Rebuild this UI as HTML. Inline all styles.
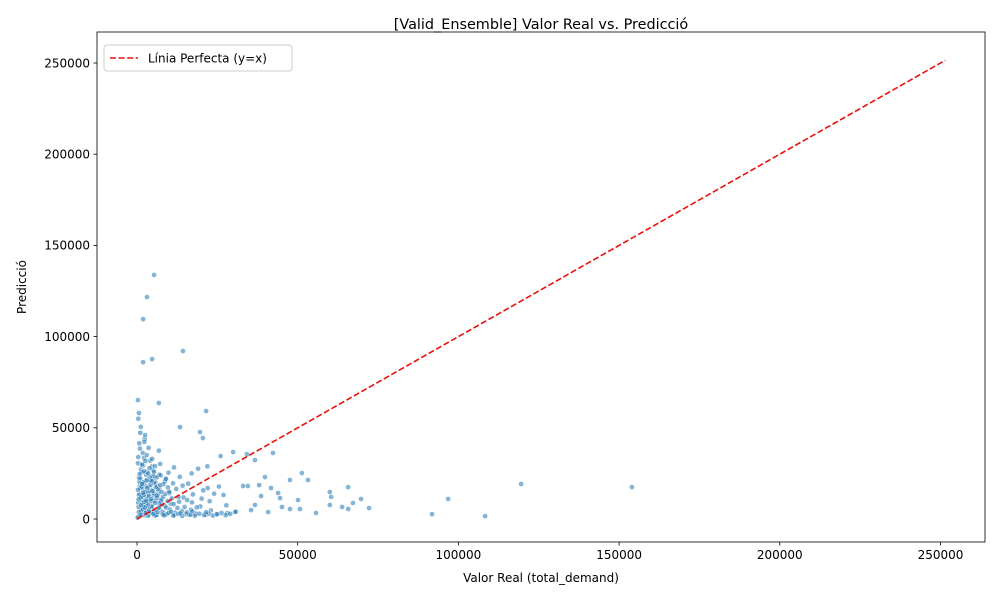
<!DOCTYPE html>
<html><head><meta charset="utf-8"><style>
body{margin:0;background:#fff;}
svg text{font-family:"DejaVu Sans","Liberation Sans",sans-serif;}
</style></head><body>
<svg id="chart" width="1000" height="600" xmlns="http://www.w3.org/2000/svg">
<rect width="1000" height="600" fill="#fff"/>
<text x="541" y="29" font-size="14.4" text-anchor="middle">[Valid_Ensemble] Valor Real vs. Predicció</text>
<text x="541" y="582" font-size="12" text-anchor="middle">Valor Real (total_demand)</text>
<text transform="translate(26,287) rotate(-90)" font-size="12" text-anchor="middle">Predicció</text>
<g id="points"></g>
<g id="line"></g>
<g id="axes"></g>
<g>
<rect x="104" y="45" width="188" height="26" rx="3" fill="#fff" fill-opacity="0.8" stroke="#ccc"/>
<line x1="110" y1="58" x2="138" y2="58" stroke="#e8120c" stroke-width="1.6" stroke-dasharray="6,2.6"/>
<text x="148" y="62.5" font-size="12">Línia Perfecta (y=x)</text>
</g>
</svg>
<script>
const xTicks=[0,50000,100000,150000,200000,250000];
const yTicks=[0,50000,100000,150000,200000,250000];
const lineEnds=[0,251500];
const ptX=[5.3,3.1,1.9,1.9,4.7,14.3,0.3,0.6,6.8,21.5,
19.6,13.4,20.5,26,29.9,34.2,42.3,36.7,39.8,38,
33,34.5,51.3,53.2,47.6,41.7,43.9,44.5,38.6,40.8,
35.5,30.5,36.7,50.1,50.7,55.7,60,60.4,60,63.8,
65.7,65.7,67.2,69.7,72.2,45.1,47.6,91.8,96.8,108.3,
0.5,1.1,0.8,2.3,1.7,3.1,0.4,2.6,1.3,3.8,
4.4,0.9,5.2,2.0,6.1,1.5,3.4,0.6,4.9,2.8,
7.0,1.2,3.9,0.3,5.7,2.2,8.4,1.8,6.6,0.7,
9.3,3.0,10.5,4.6,11.8,2.4,7.7,5.4,12.6,1.0,
13.9,6.3,15.2,3.6,8.9,16.8,4.1,10.1,18.3,5.0,
19.7,7.2,11.2,21.4,2.9,14.5,23.0,6.8,9.8,24.8,
0.2,1.6,0.9,2.5,1.4,3.3,0.6,2.1,4.0,1.9,
5.8,3.7,6.9,4.8,8.1,2.7,7.4,5.5,9.6,3.2,
10.8,12.2,13.3,8.6,17.4,15.9,20.6,26.9,28.1,30.7,
22.6,19.0,25.5,17.1,14.8,11.5,27.8,16.2,21.9,0.4,
1.3,0.5,2.7,1.0,3.6,0.8,4.3,1.7,2.2,6.0,
7.9,9.1,3.4,11.6,5.1,13.1,6.5,2.6,8.7,4.7,
0.6,1.4,2.2,3.0,3.8,4.6,5.4,6.2,7.0,7.8,
1.0,1.8,2.6,3.4,4.2,5.0,5.8,6.6,7.4,8.2,
0.3,1.2,2.0,2.9,3.7,4.5,5.3,6.1,6.9,8.8,
0.8,1.6,2.4,3.2,4.0,4.8,5.6,6.4,7.2,9.5,
0.5,1.3,2.1,2.9,3.7,4.5,5.3,6.1,7.6,10.2,
1.1,1.9,2.7,3.5,4.3,5.1,5.9,6.7,8.0,9.0,
8.5,9.8,11.3,12.8,14.0,15.5,16.7,18.0,19.4,20.9,
22.3,23.6,24.9,26.3,27.6,29.0,10.6,13.5,17.2,21.5,
10.0,11.4,12.9,14.2,15.6,17.0,18.6,20.1,22.0,24.0,
0.4,0.9,1.5,2.3,3.0,3.9,4.7,5.6,1.2,2.5,
119.5,154];
const ptY=[133.8,121.7,109.6,86,87.7,92.1,65.2,58.1,63.6,59.2,
47.7,50.4,44.4,34.5,36.7,35.6,36.2,32.3,23,18.6,
18.1,18.1,25.2,21.4,21.4,17,14.3,11.5,12.6,3.8,
4.9,3.8,7.7,10.4,5.5,3.3,14.8,12.1,7.7,6.6,
5.5,17.5,8.8,11,6,6.6,5.5,2.7,11,1.6,
1.5,2.8,4.6,2.1,6.3,3.4,8.9,5.2,11.4,2.5,
7.1,13.7,4.0,16.2,2.3,19.8,9.6,22.5,12.9,24.3,
5.8,27.1,17.5,30.6,20.2,33.4,3.1,36.2,14.8,41.5,
2.7,25.9,8.4,28.8,3.5,44.0,10.7,23.4,6.1,47.3,
4.3,18.1,2.6,39.0,21.7,5.1,32.0,14.2,3.0,26.7,
6.9,30.2,19.6,2.4,20.9,11.8,4.7,37.5,25.4,2.8,
0.8,9.2,18.4,11.1,25.7,14.6,3.7,7.8,21.1,29.4,
9.9,5.4,16.7,21.8,12.2,17.9,23.9,1.9,17.3,12.4,
11.3,16.5,23.1,7.2,13.5,19.4,15.7,13.2,3.2,4.0,
9.8,27.6,17.8,9.1,6.6,28.3,7.5,2.3,28.9,55.0,
4.2,6.7,8.1,16.9,5.9,20.4,3.6,12.3,26.1,2.1,
3.9,6.3,1.8,2.2,10.3,9.5,13.0,31.8,20.6,15.8,
13.2,17.6,9.4,21.3,15.1,6.8,19.7,11.6,24.2,8.1,
22.4,5.3,14.7,7.9,18.8,23.6,4.8,16.3,10.2,19.1,
16.0,11.9,20.1,4.4,12.6,9.7,14.0,22.8,8.6,13.8,
24.6,19.2,6.4,17.0,23.0,15.3,8.8,3.7,18.5,9.9,
10.8,7.6,13.3,10.0,4.1,20.9,25.8,12.8,14.9,5.2,
2.4,14.4,3.2,25.0,10.9,2.8,17.4,6.2,2.5,22.1,
2.0,3.4,1.9,2.8,1.7,3.6,2.4,1.8,2.9,2.2,
3.0,1.9,2.6,3.3,2.1,2.8,4.0,3.1,4.2,3.7,
15.0,8.2,12.0,18.3,10.4,25.0,6.4,11.2,17.0,13.9,
34.0,38.6,29.9,42.3,35.1,27.9,33.0,29.0,50.5,46.0,
19.2,17.5];
const W=1000,H=600,L=97,R=985,T=32,B=542;
const xmin=-12450,xmax=263850,ymin=-12600,ymax=267000;
const sx=v=>L+(v-xmin)/(xmax-xmin)*(R-L);
const sy=v=>B-(v-ymin)/(ymax-ymin)*(B-T);
const NS="http://www.w3.org/2000/svg";
function mk(t,a,p){const e=document.createElementNS(NS,t);for(const k in a)e.setAttribute(k,a[k]);p.appendChild(e);return e;}
const pts=document.getElementById('points');
const n=Math.min(ptX.length,ptY.length);
for(let i=0;i<n;i++){
 const c=mk('circle',{cx:sx(ptX[i]*1000),cy:sy(ptY[i]*1000),r:2.6,fill:'#1f77b4','fill-opacity':0.55,stroke:'#fff','stroke-width':0.5},pts);
 
 
}
const ln=mk('line',{x1:sx(lineEnds[0]),y1:sy(lineEnds[0]),x2:sx(lineEnds[1]),y2:sy(lineEnds[1]),stroke:'#e8120c','stroke-width':1.6,'stroke-dasharray':'6,2.6'},document.getElementById('line'));


const ax=document.getElementById('axes');
mk('rect',{x:L,y:T,width:R-L,height:B-T,fill:'none',stroke:'#000','stroke-width':0.8},ax);
xTicks.forEach(v=>{const x=sx(v);mk('line',{x1:x,y1:B,x2:x,y2:B+3.5,stroke:'#000','stroke-width':0.8},ax);
 const t=mk('text',{x:x,y:B+17,'font-size':12,'text-anchor':'middle'},ax);t.textContent=v;
 
 });
yTicks.forEach(v=>{const y=sy(v);mk('line',{x1:L,y1:y,x2:L-3.5,y2:y,stroke:'#000','stroke-width':0.8},ax);
 const t=mk('text',{x:L-7,y:y+4.3,'font-size':12,'text-anchor':'end'},ax);t.textContent=v;
 
 });
</script>
</body></html>
